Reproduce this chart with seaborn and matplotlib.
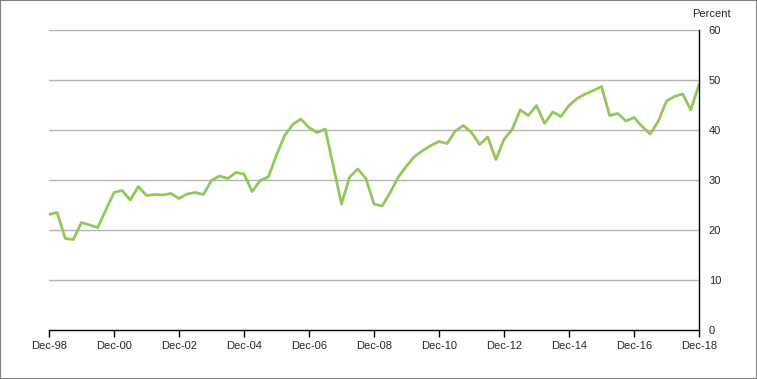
import matplotlib
matplotlib.use("Agg")
import matplotlib.pyplot as plt
import seaborn as sns
import pandas as pd
from matplotlib.patches import Rectangle

values = [23.1, 23.5, 18.3, 18.1, 21.5, 21.0, 20.5, 24.0, 27.5, 27.9,
          26.0, 28.7, 26.9, 27.1, 27.0, 27.3, 26.3, 27.2, 27.5, 27.1,
          29.9, 30.8, 30.3, 31.5, 31.2, 27.7, 29.9, 30.6, 35.0, 38.9,
          41.1, 42.2, 40.5, 39.5, 40.2, 32.7, 25.2, 30.6, 32.2, 30.3,
          25.2, 24.8, 27.5, 30.6, 32.8, 34.7, 35.9, 36.9, 37.7, 37.3,
          39.8, 40.9, 39.5, 37.1, 38.6, 34.1, 38.1, 40.1, 44.0, 42.9,
          44.9, 41.3, 43.6, 42.7, 44.9, 46.3, 47.2, 47.9, 48.7, 42.9,
          43.3, 41.8, 42.5, 40.7, 39.2, 41.8, 45.8, 46.7, 47.2, 44.0,
          49.1]
tick_labels = ["Dec-98", "Dec-00", "Dec-02", "Dec-04", "Dec-06", "Dec-08",
               "Dec-10", "Dec-12", "Dec-14", "Dec-16", "Dec-18"]
y_ticks = [0, 10, 20, 30, 40, 50, 60]

df = pd.DataFrame({"q": range(len(values)), "v": values})

sns.set_style("white")
plt.rcParams["font.family"] = ["Liberation Sans", "DejaVu Sans"]

fig = plt.figure(figsize=(7.57, 3.79), dpi=100)
ax = fig.add_axes([49/757, 49/379, 650/757, 300/379])

sns.lineplot(data=df, x="q", y="v", ax=ax, color="#92C85A", linewidth=2.0)

ax.set_xlim(0, len(values) - 1)
ax.set_ylim(0, 60)
ax.set_xticks(range(0, len(values), 8))
ax.set_xticklabels(tick_labels)
ax.set_yticks(y_ticks)
ax.yaxis.tick_right()
ax.set_xlabel("")
ax.set_ylabel("")
for y in y_ticks[1:]:
    ax.axhline(y, color="#B4B4B4", linewidth=1.0, zorder=0)

for s in ["top", "left"]:
    ax.spines[s].set_visible(False)
for s in ["right", "bottom"]:
    ax.spines[s].set_color("black")
    ax.spines[s].set_linewidth(1.0)

ax.tick_params(axis="x", direction="out", length=5, width=1, color="black",
               labelsize=8, pad=3, bottom=True)
ax.tick_params(axis="y", length=0, labelsize=8, pad=7, right=True, left=False)
for lab in ax.get_yticklabels():
    lab.set_horizontalalignment("left")

fig.text(711/757, 1 - 14/379, "Percent", fontsize=8, ha="center", va="center")

fig.patches.append(Rectangle((0, 0), 1, 1, transform=fig.transFigure,
                             fill=False, edgecolor="#808080", linewidth=1.5))

fig.savefig("out.png", dpi=100)
